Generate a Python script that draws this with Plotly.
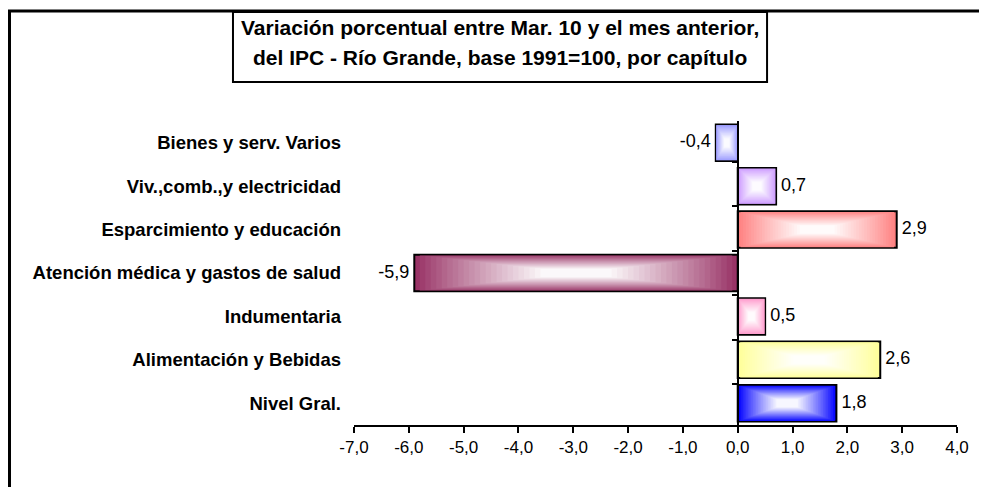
import plotly.graph_objects as go

categories = [
    "Bienes y serv. Varios",
    "Viv.,comb.,y electricidad",
    "Esparcimiento y educación",
    "Atención médica y gastos de salud",
    "Indumentaria",
    "Alimentación y Bebidas",
    "Nivel Gral.",
]
values = [-0.4, 0.7, 2.9, -5.9, 0.5, 2.6, 1.8]
bar_colors = ["#9999FF", "#CC99FF", "#FF8080", "#993366", "#FF99CC", "#FFFF99", "#0000FF"]
x_ticks = [-7, -6, -5, -4, -3, -2, -1, 0, 1, 2, 3, 4]
x_tick_labels = ["-7,0", "-6,0", "-5,0", "-4,0", "-3,0", "-2,0", "-1,0",
                 "0,0", "1,0", "2,0", "3,0", "4,0"]

title_lines = [
    "Variación porcentual entre Mar. 10 y el mes anterior,",
    "del IPC - Río Grande, base 1991=100, por capítulo",
]

FONT = "Liberation Sans, Arial, sans-serif"
BAR_W = 0.84
N_LAYERS = 24


def hex_to_rgb(h):
    h = h.lstrip("#")
    return tuple(int(h[i:i + 2], 16) for i in (0, 2, 4))


def mix(c, f):
    r, g, b = hex_to_rgb(c)
    return "rgb(%d,%d,%d)" % (r + (255 - r) * f, g + (255 - g) * f, b + (255 - b) * f)


def fmt(v):
    return ("%.1f" % v).replace(".", ",").replace("\u2212", "-")


fig = go.Figure()

# Concentric layers produce the rectangular "from centre" gradient fill
for k in range(N_LAYERS):
    s = k / (N_LAYERS - 1)
    t = 0.78 * s
    f = min(1.0, s ** 0.9 * 0.97)
    fig.add_trace(go.Bar(
        y=categories,
        x=[v * (1 - t) for v in values],
        base=[v * t / 2 for v in values],
        width=BAR_W * (1 - t),
        orientation="h",
        marker=dict(
            color=[mix(c, f) for c in bar_colors],
            line=dict(color="black", width=2 if k == 0 else 0),
        ),
        showlegend=False,
        hoverinfo="skip",
    ))

# value labels
fig.add_trace(go.Scatter(
    y=categories,
    x=values,
    mode="text",
    text=[("\u00a0" + fmt(v)) if v >= 0 else (fmt(v) + "\u00a0") for v in values],
    textposition=["middle right" if v >= 0 else "middle left" for v in values],
    textfont=dict(family=FONT, size=18, color="black"),
    showlegend=False,
    hoverinfo="skip",
    cliponaxis=False,
))

# invisible trace to carry the categories on the zero-line axis
fig.add_trace(go.Scatter(
    y=categories, x=[0] * len(categories), yaxis="y2", mode="markers",
    marker=dict(opacity=0), showlegend=False, hoverinfo="skip",
))

xmin, xmax = x_ticks[0], x_ticks[-1]

fig.update_layout(
    width=987, height=487,
    margin=dict(l=346, r=38, t=113, b=70),
    paper_bgcolor="white", plot_bgcolor="white",
    barmode="overlay",
    font=dict(family=FONT, color="black"),
    xaxis=dict(
        range=[xmin, xmax], tickvals=x_ticks, ticktext=x_tick_labels,
        showline=True, linecolor="black", linewidth=2,
        ticks="outside", ticklen=6, tickwidth=2, tickcolor="black",
        showgrid=False, zeroline=False,
        tickfont=dict(family=FONT, size=17, color="black"),
    ),
    yaxis=dict(
        categoryorder="array", categoryarray=categories,
        autorange="reversed",
        showline=False, showgrid=False, zeroline=False, ticks="",
        ticklabelstandoff=12,
        tickfont=dict(family=FONT, size=18.5, color="black", weight="bold"),
    ),
    yaxis2=dict(
        overlaying="y", anchor="free", position=(0 - xmin) / (xmax - xmin),
        categoryorder="array", categoryarray=categories,
        autorange="reversed",
        showline=True, linecolor="black", linewidth=2,
        ticks="outside", ticklen=5, tickwidth=2, tickcolor="black",
        tickson="boundaries", showticklabels=False,
        showgrid=False, zeroline=False,
    ),
)

# outer chart frame (partially cut by the picture edge) and title box
fig.add_shape(type="rect", xref="paper", yref="paper",
              x0=-0.5713, x1=1.2, y0=-0.5, y1=1.362,
              line=dict(color="black", width=3), layer="below")
fig.add_shape(type="rect", xref="paper", yref="paper",
              x0=-0.2007, x1=0.685, y0=1.128, y1=1.3586,
              line=dict(color="black", width=2), fillcolor="white")
for line, yy in zip(title_lines, [1.3092, 1.2105]):
    fig.add_annotation(text=line, xref="paper", yref="paper",
                       x=0.2421, y=yy, xanchor="center", yanchor="middle",
                       showarrow=False,
                       font=dict(family=FONT, size=21, color="black", weight="bold"))

fig.write_html("out.html")
